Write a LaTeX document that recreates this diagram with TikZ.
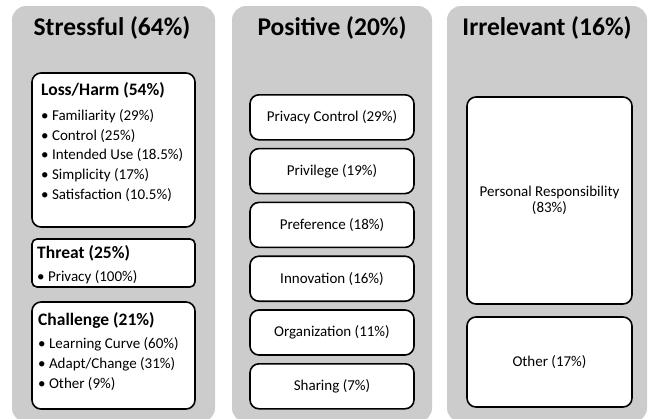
\documentclass[tikz,border=0pt]{standalone}
\usepackage{fontspec}
\setmainfont{Carlito}
\usetikzlibrary{positioning}

\tikzset{
  panel/.style={fill=black!20, draw=none, rounded corners=14pt, inner sep=0pt},
  catbox/.style={draw=black, line width=1.6pt, fill=white, rounded corners=9pt, inner sep=0pt},
  thinbox/.style={catbox, rounded corners=5pt},
  posbox/.style={catbox, minimum width=164pt, minimum height=45pt, font=\fontsize{15}{18}\selectfont},
  title/.style={font=\fontsize{25.5}{30}\selectfont\bfseries},
  head/.style={anchor=west, inner sep=0pt, font=\fontsize{17.5}{21}\selectfont\bfseries},
  item/.style={anchor=west, inner sep=0pt, font=\fontsize{15}{18}\selectfont}
}

\begin{document}
\begin{tikzpicture}[x=1pt,y=-1pt]
\useasboundingbox (0,0) rectangle (651,418);

% Three gray columns
\node[panel, minimum width=203pt, minimum height=416pt] (stress) at (113.5,214) {};
\node[panel, minimum width=200pt, minimum height=416pt] (pos) at (332,214) {};
\node[panel, minimum width=200pt, minimum height=416pt] (irr) at (547,214) {};
\node[title] (stressT) at (112,28) {Stressful (64\%)};
\node[title] (posT) at (332,28) {Positive (20\%)};
\node[title] (irrT) at (547,28) {Irrelevant (16\%)};

% Stressful: Loss/Harm
\node[catbox, minimum width=163pt, minimum height=154pt] (loss) at (113.5,150) {};
\node[head] (lossH) at (41,90) {Loss/Harm (54\%)};
\foreach \t [count=\i] in {Familiarity (29\%),Control (25\%),Intended Use (18.5\%),Simplicity (17\%),Satisfaction (10.5\%)}
  \node[item] (loss\i) at (41,{96+19.8*\i}) {\textbullet\ \t};

% Stressful: Threat
\node[thinbox, minimum width=163pt, minimum height=48pt] (threat) at (113.5,263) {};
\node[head] (threatH) at (37,253) {Threat (25\%)};
\node[item] (threat1) at (37,277) {\textbullet\ Privacy (100\%)};

% Stressful: Challenge
\node[catbox, minimum width=163pt, minimum height=107pt] (chal) at (113.5,355.5) {};
\node[head] (chalH) at (38,320) {Challenge (21\%)};
\foreach \t [count=\i] in {Learning Curve (60\%),Adapt/Change (31\%),Other (9\%)}
  \node[item] (chal\i) at (38,{324+20*\i}) {\textbullet\ \t};

% Positive: six boxes
\foreach \t [count=\i] in {Privacy Control (29\%),Privilege (19\%),Preference (18\%),Innovation (16\%),Organization (11\%),Sharing (7\%)}
  \node[posbox] (pos\i) at (332,{63.5+53.8*\i}) {\t};

% Irrelevant
\node[catbox, minimum width=165pt, minimum height=207pt, align=center, font=\fontsize{15}{16}\selectfont] (resp) at (549.5,200.5) {Personal Responsibility\\(83\%)};
\node[catbox, minimum width=165pt, minimum height=90pt, font=\fontsize{15}{18}\selectfont] (other) at (549.5,362) {Other (17\%)};
\end{tikzpicture}
\end{document}
